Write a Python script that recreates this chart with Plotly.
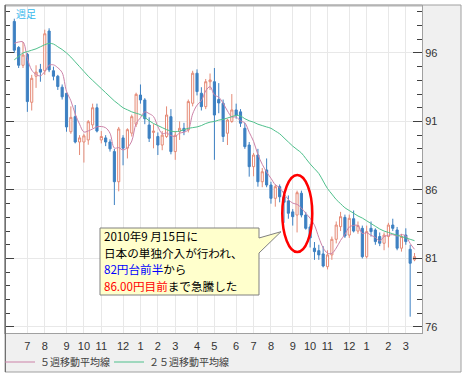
import plotly.graph_objects as go

# ---- data (weekly USD/JPY candles, Jun 2009 - Mar 2011) ----
weeks = list(range(93))
opens = [98.3, 96.4, 95.1, 95.9, 92.4, 94.3, 94.8, 94.7, 97.6, 94.7,
         94.3, 93.5, 93.05, 90.25, 91.35, 89.5, 89.5, 89.65, 90.75, 92.0,
         89.65, 89.8, 89.5, 88.8, 86.6, 89.8, 89.05, 90.15, 90.8, 92.93,
         92.57, 90.74, 90.2, 89.9, 89.28, 89.9, 91.35, 88.8, 90.26, 90.5,
         90.38, 92.33, 94.52, 93.06, 92.08, 93.9, 93.9, 92.6, 92.33, 90.14,
         91.0, 91.84, 91.7, 90.5, 89.28, 87.7, 88.55, 86.6, 87.46, 86.36,
         85.39, 86.24, 85.5, 85.2, 84.4, 84.17, 85.76, 84.17, 83.3, 81.75,
         81.57, 81.33, 80.4, 81.26, 82.4, 83.32, 84.0, 82.71, 83.9, 83.0,
         83.2, 81.13, 83.2, 83.08, 82.6, 82.11, 82.6, 83.44, 83.08, 81.75,
         82.71, 81.67, 80.9]
highs = [98.5, 96.5, 96.8, 96.0, 94.4, 95.1, 95.2, 97.7, 97.8, 95.0,
         94.4, 93.7, 93.1, 92.1, 92.2, 90.0, 90.1, 91.1, 92.3, 92.3,
         90.3, 90.0, 89.7, 89.0, 90.6, 90.0, 90.5, 91.5, 93.1, 93.7,
         92.7, 91.3, 90.8, 90.2, 90.3, 92.1, 91.9, 90.3, 91.0, 90.9,
         92.6, 94.7, 94.8, 93.5, 94.1, 94.5, 94.9, 93.8, 92.6, 91.2,
         93.0, 92.3, 91.9, 90.9, 89.5, 88.7, 89.0, 87.6, 88.3, 86.6,
         86.4, 86.4, 85.9, 85.6, 84.6, 85.95, 85.95, 84.4, 83.5, 82.2,
         82.0, 81.9, 81.6, 82.6, 83.7, 84.4, 84.2, 84.2, 84.5, 83.7,
         83.4, 83.4, 83.7, 83.2, 82.9, 82.9, 83.6, 83.9, 83.3, 82.8,
         83.2, 82.0, 81.4]
lows = [96.0, 94.9, 94.9, 91.7, 91.8, 93.45, 93.9, 94.4, 94.6, 94.0,
        93.3, 92.6, 90.25, 90.1, 89.4, 88.55, 88.0, 89.3, 90.5, 90.2,
        89.4, 89.2, 88.8, 84.9, 85.9, 87.8, 88.3, 89.9, 90.6, 92.3,
        90.8, 89.5, 89.04, 88.55, 88.9, 89.8, 88.6, 88.2, 89.65, 90.0,
        90.2, 92.1, 92.9, 91.8, 91.9, 93.3, 88.2, 91.6, 89.5, 89.28,
        90.9, 91.2, 90.6, 89.0, 86.97, 87.0, 86.24, 86.2, 86.2, 85.0,
        84.78, 85.1, 83.6, 83.9, 83.4, 82.9, 84.0, 83.1, 81.8, 80.9,
        80.9, 80.35, 80.2, 80.9, 82.1, 83.0, 82.5, 82.5, 82.9, 82.8,
        81.0, 81.0, 82.6, 82.0, 81.9, 81.6, 81.8, 83.0, 81.6, 81.5,
        82.0, 76.75, 80.8]
closes = [96.2, 95.1, 95.85, 92.45, 94.15, 94.6, 94.6, 97.4, 94.76, 94.3,
          93.55, 92.8, 90.6, 91.3, 89.5, 89.8, 89.95, 90.98, 92.0, 90.3,
          89.9, 89.5, 89.0, 86.6, 90.45, 89.05, 90.4, 91.35, 92.98, 92.57,
          91.2, 89.77, 90.3, 89.28, 90.0, 91.47, 88.8, 90.0, 90.5, 90.3,
          92.45, 94.52, 93.18, 92.08, 93.9, 94.03, 91.47, 92.35, 89.9, 91.1,
          91.84, 91.47, 90.87, 89.16, 87.7, 88.55, 86.6, 87.33, 86.36, 85.39,
          86.24, 85.5, 85.1, 84.3, 84.05, 85.8, 84.17, 83.2, 82.5, 81.5,
          81.26, 80.45, 81.26, 82.4, 83.44, 84.05, 82.64, 83.93, 83.0, 83.4,
          81.13, 82.96, 82.96, 82.23, 82.11, 82.71, 83.44, 83.2, 81.75, 82.6,
          82.23, 80.65, 81.13]
ma5 = [96.7, 96.8, 96.8, 95.6, 94.75, 94.43, 94.33, 94.64, 95.1, 95.13,
       94.92, 94.56, 93.2, 92.51, 91.55, 90.8, 90.23, 90.31, 90.45, 90.61,
       90.63, 90.54, 90.14, 89.06, 89.09, 88.92, 89.1, 89.57, 90.85, 91.27,
       91.7, 91.57, 91.36, 90.62, 90.11, 90.16, 89.97, 89.91, 90.15, 90.21,
       90.41, 91.55, 92.19, 92.51, 93.23, 93.54, 92.93, 92.77, 92.33, 91.77,
       91.33, 91.33, 91.04, 90.89, 90.21, 89.55, 88.58, 87.87, 87.31, 86.85,
       86.38, 86.16, 85.72, 85.31, 85.04, 84.95, 84.68, 84.3, 83.94, 83.43,
       82.53, 81.78, 81.39, 81.37, 81.76, 82.32, 82.76, 83.29, 83.41, 83.4,
       82.82, 82.88, 82.69, 82.54, 82.28, 82.59, 82.69, 82.74, 82.64, 82.74,
       82.64, 82.09, 81.67]
ma25 = [95.5, 95.75, 96.0, 96.1, 96.2, 96.3, 96.45, 96.6, 96.7, 96.65,
        96.45, 96.25, 96.0, 95.7, 95.35, 95.0, 94.65, 94.3, 94.0, 93.7,
        93.4, 93.1, 92.8, 92.5, 92.25, 92.0, 91.85, 91.7, 91.6, 91.5,
        91.3, 91.05, 90.85, 90.7, 90.55, 90.4, 90.3, 90.25, 90.3, 90.4,
        90.5, 90.55, 90.6, 90.7, 90.85, 90.95, 91.0, 91.1, 91.15, 91.25,
        91.35, 91.45, 91.4, 91.2, 91.05, 90.95, 90.8, 90.7, 90.6, 90.5,
        90.3, 90.1, 89.8, 89.5, 89.2, 88.95, 88.7, 88.3, 87.9, 87.55,
        87.2, 86.65, 86.1, 85.7, 85.3, 85.0, 84.7, 84.5, 84.3, 84.1,
        83.95, 83.75, 83.55, 83.35, 83.15, 83.0, 82.9, 82.8, 82.7, 82.6,
        82.5, 82.4, 82.3]
month_pos = [3, 7, 12, 16, 20, 25, 29, 33, 37, 42, 46, 51, 55, 59, 64, 68, 72, 77, 81, 86, 90]
month_labels = ['7', '8', '9', '10', '11', '12', '1', '2', '3', '4', '5', '6',
                '7', '8', '9', '10', '11', '12', '1', '2', '3']
y_ticks = [76, 81, 86, 91, 96]
ma5_name = '５週移動平均線'
ma25_name = '２５週移動平均線'
period_label = '週足'
callout_lines = [
    '2010年9 月15日に',
    '日本の単独介入が行われ、',
    '<span style="color:#0000ff">82円台前半</span>から',
    '<span style="color:#ff0000">86.00円目前</span>まで急騰した',
]

# ---- layout geometry (pixels) ----
W, H = 465, 376
ML, MR, MT, MB = 5, 43, 5, 43
PW = W - ML - MR
PH = H - MT - MB


def px(x):
    return (x - ML) / PW


def py(y):
    return (H - MB - y) / PH


JP = 'Noto Sans CJK JP'

fig = go.Figure()
fig.add_trace(go.Candlestick(
    x=weeks, open=opens, high=highs, low=lows, close=closes,
    increasing=dict(line=dict(color='#e58a76', width=1), fillcolor='#ffffff'),
    decreasing=dict(line=dict(color='#3d80c2', width=1), fillcolor='#3d80c2'),
    whiskerwidth=0, showlegend=False, hoverinfo='skip'))
fig.add_trace(go.Scatter(x=weeks, y=ma5, mode='lines', name=ma5_name, legend='legend',
                         line=dict(color='#cc82a8', width=1, shape='spline')))
fig.add_trace(go.Scatter(x=weeks, y=ma25, mode='lines', name=ma25_name, legend='legend2',
                         line=dict(color='#4fc08c', width=1, shape='spline')))

shapes = [
    dict(type='rect', xref='paper', yref='paper', x0=px(5), x1=px(461), y0=py(372), y1=py(5),
         fillcolor='#f0f0f0', line=dict(color='#a0a0a0', width=1), layer='below'),
    dict(type='rect', xref='paper', yref='paper', x0=px(5), x1=px(422), y0=py(333), y1=py(5),
         fillcolor='#ffffff', line=dict(width=0), layer='below'),
    dict(type='line', xref='paper', yref='paper', x0=px(5), x1=px(422), y0=py(5.5), y1=py(5.5),
         line=dict(color='#b4b4b4', width=2)),
    dict(type='line', xref='paper', yref='paper', x0=px(5.5), x1=px(5.5), y0=py(5), y1=py(372),
         line=dict(color='#707070', width=1)),
    dict(type='circle', xref='x', yref='y', x0=61.6, x1=68.5, y0=81.47, y1=87.1,
         line=dict(color='#ff0000', width=2.5)),
]
pts = [(100, 228), (259, 228), (259, 238), (281, 231.7), (259, 253), (259, 295), (100, 295)]
path = 'M ' + ' L '.join(f'{px(a):.5f},{py(b):.5f}' for a, b in pts) + ' Z'
shapes.append(dict(type='path', xref='paper', yref='paper', path=path,
                   fillcolor='#ffffcc', line=dict(color='#808080', width=1)))

annotations = []
for i, line in enumerate(callout_lines):
    annotations.append(dict(text=line, xref='paper', yref='paper', x=px(102),
                            y=py(236 + 16.5 * i), xanchor='left', yanchor='middle',
                            align='left', showarrow=False,
                            font=dict(family=JP, size=11.6, color='#000000')))
annotations.append(dict(text=period_label, xref='paper', yref='paper', x=px(26), y=py(13),
                        xanchor='center', yanchor='middle', showarrow=False,
                        font=dict(family=JP, size=10, color='#38b8ec')))

legend_style = dict(orientation='h', yanchor='middle', xanchor='left',
                    bgcolor='rgba(0,0,0,0)', font=dict(family=JP, size=10, color='#404040'),
                    itemwidth=30)

fig.update_layout(
    width=W, height=H, autosize=False,
    margin=dict(l=ML, r=MR, t=MT, b=MB, autoexpand=False),
    paper_bgcolor='#ffffff', plot_bgcolor='#ffffff',
    shapes=shapes,
    annotations=annotations,
    showlegend=True,
    legend=dict(x=px(0), y=py(362), **legend_style),
    legend2=dict(x=px(109), y=py(362), **legend_style),
    xaxis=dict(range=[-2.14, 93.72], tickvals=month_pos, ticktext=month_labels,
               showgrid=True, gridcolor='#e8e8e8', gridwidth=1, zeroline=False,
               ticks='', showline=True, linecolor='#a0a0a0', linewidth=1,
               ticklabelstandoff=3,
               tickfont=dict(family='Liberation Sans', size=11, color='#333333'),
               rangeslider=dict(visible=False), fixedrange=True),
    yaxis=dict(side='right', range=[75.56, 99.5], tickvals=y_ticks,
               showgrid=True, gridcolor='#e8e8e8', gridwidth=1, zeroline=False,
               ticks='inside', ticklen=9, tickcolor='#404040', tickwidth=1,
               showline=True, linecolor='#a0a0a0', linewidth=1, mirror='ticks',
               minor=dict(dtick=1, tick0=76, ticks='inside', ticklen=5,
                          tickcolor='#404040', showgrid=False),
               tickfont=dict(family='Liberation Sans', size=11, color='#333333'),
               fixedrange=True),
)

fig.write_html('out.html', config={'displayModeBar': False},
               post_script="document.body.style.margin='0';document.body.style.padding='0';")
